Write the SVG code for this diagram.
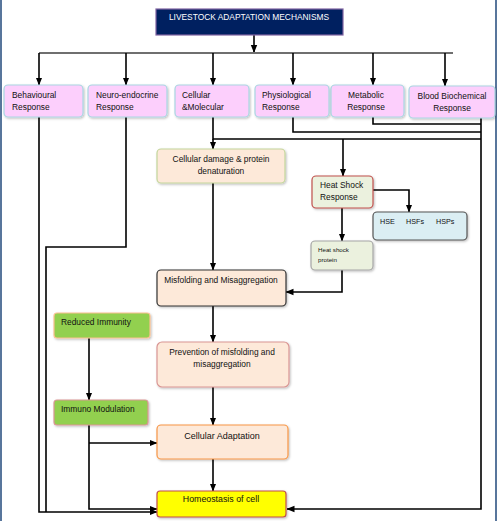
<svg xmlns="http://www.w3.org/2000/svg" width="497" height="521" viewBox="0 0 497 521">
<style>
  text { font-family: "Liberation Sans", Arial, sans-serif; font-size: 8.4px; fill: #111; }
  .box { stroke-width: 1.2; filter: url(#sh); }
  .pink { fill: #fccffc; stroke: #a9d6e2; }
  .peach { fill: #fde9d9; }
  .green { fill: #92d050; }
  .ltgreen { fill: #ebf1de; }
  .c { text-anchor: middle; }
  .conn path { fill: none; stroke: #000; stroke-width: 1.6; }
  .conn path.arr { marker-end: url(#ah); }
</style>
<defs>
  <marker id="ah" markerUnits="userSpaceOnUse" markerWidth="8" markerHeight="8" viewBox="0 0 8 8" refX="7.5" refY="4" orient="auto">
    <path d="M0,0.8 L8,4 L0,7.2 Z" fill="#000"/>
  </marker>
  <filter id="sh" x="-10%" y="-10%" width="130%" height="140%">
    <feDropShadow dx="1" dy="1.2" stdDeviation="0.8" flood-color="#000" flood-opacity="0.25"/>
  </filter>
</defs>
<rect x="0" y="0" width="497" height="521" fill="#fff"/>
<rect x="0" y="0" width="2" height="521" fill="#58769c"/>
<rect x="495" y="0" width="2" height="521" fill="#58769c"/>

<g class="conn" id="connectors">
  <path class="arr" d="M254 35 V52.5"/>
  <path d="M39 53 H453" style="stroke:#6f6f6f;stroke-width:2"/>
  <path class="arr" d="M39 53 V85"/>
  <path class="arr" d="M126 53 V85"/>
  <path class="arr" d="M213 53 V85"/>
  <path class="arr" d="M293 53 V85"/>
  <path class="arr" d="M373 53 V85"/>
  <path class="arr" d="M445 53 V86"/>
  <path class="arr" d="M39 117 V512 H157"/>
  <path d="M126 117 V247 H46 V512"/>
  <path d="M213 117 V139 H481"/>
  <path d="M293 117 V132 H481"/>
  <path d="M373 117 V124 H481"/>
  <path class="arr" d="M481 118 V509 H287"/>
  <path class="arr" d="M343 139 V176"/>
  <path class="arr" d="M213 139 V149"/>
  <path class="arr" d="M373 190 H409 V212"/>
  <path class="arr" d="M342 208 V241"/>
  <path class="arr" d="M342 270 V292 H286"/>
  <path class="arr" d="M213 183 V270"/>
  <path class="arr" d="M213 306 V342"/>
  <path class="arr" d="M213 387 V425"/>
  <path class="arr" d="M213 459 V491"/>
  <path class="arr" d="M89 338 V400"/>
  <path class="arr" d="M89 425 V509 H157"/>
  <path class="arr" d="M89 443 H157"/>
</g>

<g id="title">
  <rect x="156" y="9" width="187" height="26" fill="#002060" stroke="#8064a2" stroke-width="1.2"/>
  <text x="249" y="20" class="c" style="fill:#fff">LIVESTOCK ADAPTATION MECHANISMS</text>
</g>

<g id="behavioural">
  <rect class="box pink" x="4" y="85" width="79" height="32" rx="4"/>
  <text x="12" y="98">Behavioural</text>
  <text x="12" y="110">Response</text>
</g>
<g id="neuroendocrine">
  <rect class="box pink" x="88" y="85" width="79" height="32" rx="4"/>
  <text x="96" y="98">Neuro-endocrine</text>
  <text x="96" y="110">Response</text>
</g>
<g id="cellular">
  <rect class="box pink" x="175" y="85" width="74" height="32" rx="4"/>
  <text x="182" y="98">Cellular</text>
  <text x="182" y="110">&amp;Molecular</text>
</g>
<g id="physiological">
  <rect class="box pink" x="255" y="85" width="74" height="32" rx="4"/>
  <text x="262" y="98">Physiological</text>
  <text x="262" y="110">Response</text>
</g>
<g id="metabolic">
  <rect class="box pink" x="331" y="85" width="73" height="32" rx="4"/>
  <text x="366" y="98" class="c">Metabolic</text>
  <text x="366" y="110" class="c">Response</text>
</g>
<g id="blood">
  <rect class="box pink" x="409" y="86" width="86" height="32" rx="4"/>
  <text x="452" y="99" class="c">Blood Biochemical</text>
  <text x="452" y="111" class="c">Response</text>
</g>

<g id="cellular-damage">
  <rect class="box peach" x="157" y="149" width="128" height="34" rx="4" stroke="#c3d69b"/>
  <text x="221" y="162" class="c">Cellular damage &amp; protein</text>
  <text x="221" y="174" class="c">denaturation</text>
</g>
<g id="heat-shock-response">
  <rect class="box ltgreen" x="312" y="176" width="61" height="32" rx="4" stroke="#c0504d"/>
  <text x="320" y="188">Heat Shock</text>
  <text x="320" y="200">Response</text>
</g>
<g id="hse">
  <rect class="box" x="373" y="212" width="94" height="28" rx="4" fill="#dbeef3" stroke="#555"/>
  <text x="380" y="224" style="font-size:7.2px">HSE</text>
  <text x="406" y="224" style="font-size:7.2px">HSFs</text>
  <text x="436" y="224" style="font-size:7.2px">HSPs</text>
</g>
<g id="heat-shock-protein">
  <rect class="box ltgreen" x="311" y="241" width="62" height="29" rx="4" stroke="#a6a6a6"/>
  <text x="318" y="252" style="font-size:6.2px">Heat shock</text>
  <text x="318" y="262" style="font-size:6.2px">protein</text>
</g>
<g id="misfolding">
  <rect class="box peach" x="157" y="270" width="129" height="36" rx="4" stroke="#333"/>
  <text x="221" y="283" class="c">Misfolding and Misaggregation</text>
</g>
<g id="prevention">
  <rect class="box peach" x="157" y="342" width="132" height="45" rx="5" stroke="#d99694"/>
  <text x="222" y="355" class="c">Prevention of misfolding and</text>
  <text x="222" y="367" class="c">misaggregation</text>
</g>
<g id="cellular-adaptation">
  <rect class="box peach" x="157" y="425" width="131" height="34" rx="4" stroke="#f79646"/>
  <text x="222" y="439" class="c" style="font-size:9px">Cellular Adaptation</text>
</g>
<g id="homeostasis">
  <rect class="box" x="157" y="491" width="129" height="26" rx="3" fill="#ffff00" stroke="#c0504d"/>
  <text x="221" y="502" class="c" style="font-size:8.8px">Homeostasis of cell</text>
</g>
<g id="reduced-immunity">
  <rect class="box green" x="54" y="313" width="96" height="25" rx="3" stroke="#fac090"/>
  <text x="61" y="325">Reduced Immunity</text>
</g>
<g id="immuno-modulation">
  <rect class="box green" x="54" y="400" width="94" height="25" rx="3" stroke="#d99694"/>
  <text x="61" y="412">Immuno Modulation</text>
</g>
</svg>
